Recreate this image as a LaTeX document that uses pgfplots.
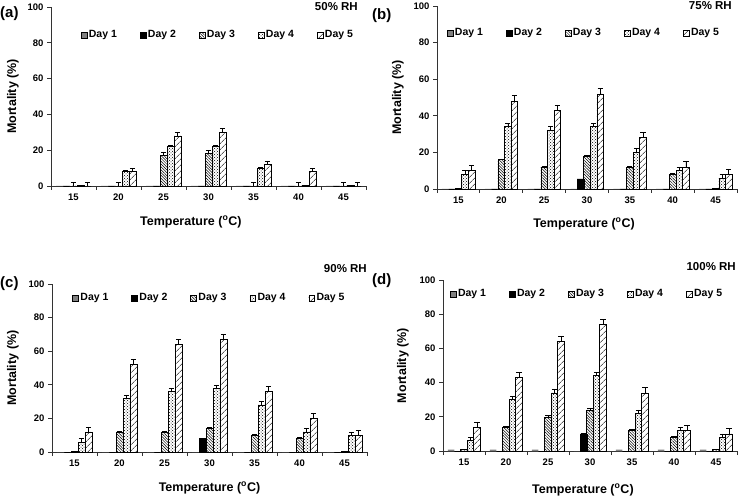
\documentclass[border=0pt]{standalone}
\usepackage{fontspec}
\setmainfont{Liberation Sans}
\usepackage{pgfplots}
\pgfplotsset{compat=1.18}
\usepackage{pgfplotstable}
\usetikzlibrary{patterns,patterns.meta}

% columns: category index, mortality day 1..5, error day 2..5
\pgfplotstableread{
x d1 d2 d3 d4 d5 e2 e3 e4 e5
0 0 0 0 0.5 0 0 2 0 2
1 0 0 0 8 8 0 2 0.5 2
2 0 0 17 22 28 0 2 0.5 2
3 0 0 18 22 30 0 2 0.5 2
4 0 0 0 10 12 0 2 0.5 2
5 0 0 0 0.5 8 0 2 0 2
6 0 0 0 0.5 0 0 2 0 2
}\tabA
\pgfplotstableread{
x d1 d2 d3 d4 d5 e2 e3 e4 e5
0 0 0 0.3 8 10 0 0 2 3
1 0 0 16 34 48 0 0.5 2 3
2 0 0 12 32 43 0 0.5 2 3
3 0 5.5 18 34 52 0 0.5 2 3
4 0 0 12 20 28 0 0.5 2 3
5 0 0 8 10 12 0 0.5 2 3
6 0 0 0.3 6 8 0 0 2 3
}\tabB
\pgfplotstableread{
x d1 d2 d3 d4 d5 e2 e3 e4 e5
0 0 0 0.3 6 12 0 0 2 3
1 0 0 12 32 52 0 0.5 2 3
2 0 0 12 36 64 0 0.5 2 3
3 0 8 14 38 67 0 0.5 2 3
4 0 0 10 28 36 0 0.5 2 3
5 0 0 8 12 20 0 0.5 2 3
6 0 0 0.3 10 10 0 0 2 3
}\tabC
\pgfplotstableread{
x d1 d2 d3 d4 d5 e2 e3 e4 e5
0 0.8 0 0.8 6 14 0 0 2 3
1 0.8 0 14 30 43 0 0.5 2 3
2 0.8 0 20 34 64 0 1 2 3
3 0 10 24 44 74 0.5 1 2 3
4 0.8 0 12 22 34 0 0.5 2 3
5 0.8 0 8 12 12 0 0.5 2 3
6 0.8 0 0.8 8 10 0 0 2 3
}\tabD

\pgfplotsset{
  panel/.style={
    scale only axis, anchor=south west,
    ybar=0pt,
    ymin=0, ymax=100, ytick={0,20,40,60,80,100},
    xmin=-0.5, xmax=6.5,
    xtick={-0.5,0.5,1.5,2.5,3.5,4.5,5.5,6.5},
    x tick label as interval,
    xticklabels={15,20,25,30,35,40,45},
    axis x line*=bottom, axis y line*=left,
    axis line style={-, black!80, line width=0.8pt},
    tick align=outside, major tick length=4pt,
    tick style={black!80, line width=0.8pt},
    tick label style={font=\bfseries\fontsize{9.5}{11}\selectfont},
    /pgf/number format/assume math mode=true,
    label style={font=\bfseries\fontsize{12.5}{14}\selectfont},
    xlabel={Temperature (\textsuperscript{o}C)},
    ylabel={Mortality (\%)},
    legend columns=5,
    legend style={draw=none, fill=none, anchor=center,
      font=\bfseries\fontsize{10.5}{12}\selectfont,
      /tikz/every even column/.append style={column sep=21pt}},
    clip=false,
  },
  sqleg/.style={legend image code/.code={
      \draw[##1, line width=0.4pt] (0pt,-2.8pt) rectangle (5.6pt,2.8pt);}},
  errbars/.style={
    /pgfplots/error bars/y dir=plus,
    /pgfplots/error bars/y explicit,
    /pgfplots/error bars/error bar style={black, line width=0.6pt},
    /pgfplots/error bars/error mark options={rotate=90, black, line width=0.6pt, mark size=2.6pt}},
  dA/.style={fill=black!50, draw=none},
  dB/.style={fill=black, draw=black},
  dC/.style={draw=black, line width=0.6pt, pattern={Lines[angle=-45,distance=2pt,line width=0.5pt]}},
  dD/.style={draw=black, line width=0.6pt, pattern=crosshatch dots},
  dE/.style={draw=black, line width=0.6pt, pattern={Lines[angle=45,distance=4pt,line width=0.6pt]}},
}

\newcommand{\bars}[1]{%
  \addplot[dA, sqleg] table[x=x, y=d1] {#1};
  \addlegendentry{Day 1}
  \addplot[dB, errbars, sqleg] table[x=x, y=d2, y error=e2] {#1};
  \addlegendentry{Day 2}
  \addplot[dC, errbars, sqleg] table[x=x, y=d3, y error=e3] {#1};
  \addlegendentry{Day 3}
  \addplot[dD, errbars, sqleg] table[x=x, y=d4, y error=e4] {#1};
  \addlegendentry{Day 4}
  \addplot[dE, errbars, sqleg] table[x=x, y=d5, y error=e5] {#1};
  \addlegendentry{Day 5}
}

\begin{document}
\begin{tikzpicture}
\useasboundingbox (0pt,0pt) rectangle (738pt,498pt);

% (a) 50% RH
\begin{axis}[panel, at={(51pt,312pt)}, width=315pt, height=179pt, bar width=7pt,
  legend style={at={(0.53,0.844)}},
  xlabel style={at={([yshift=-36pt]axis description cs:0.444,0)}, anchor=center},
  ylabel style={at={([xshift=-38pt]axis description cs:0,0.5)}, anchor=center}]
\bars{\tabA}
\end{axis}

% (b) 75% RH
\begin{axis}[panel, at={(437pt,309pt)}, width=300pt, height=183pt, bar width=6.6pt,
  legend style={at={(0.49,0.852)}},
  xlabel style={at={([yshift=-35pt]axis description cs:0.49,0)}, anchor=center},
  ylabel style={at={([xshift=-39pt]axis description cs:0,0.5)}, anchor=center}]
\bars{\tabB}
\end{axis}

% (c) 90% RH
\begin{axis}[panel, at={(52pt,46pt)}, width=315pt, height=168pt, bar width=7pt,
  legend style={at={(0.5,0.917)}},
  xlabel style={at={([yshift=-36pt]axis description cs:0.5,0)}, anchor=center},
  ylabel style={at={([xshift=-39pt]axis description cs:0,0.5)}, anchor=center}]
\bars{\tabC}
\end{axis}

% (d) 100% RH
\begin{axis}[panel, at={(443pt,47pt)}, width=294pt, height=171pt, bar width=6.5pt,
  legend style={at={(0.49,0.918)}},
  xlabel style={at={([yshift=-39pt]axis description cs:0.476,0)}, anchor=center},
  ylabel style={at={([xshift=-40pt]axis description cs:0,0.5)}, anchor=center}]
\bars{\tabD}
\end{axis}

\begin{scope}[font=\bfseries\fontsize{15}{17}\selectfont]
\node[anchor=west, inner sep=0pt] at (0pt,484pt) {(a)};
\node[anchor=west, inner sep=0pt] at (372pt,482pt) {(b)};
\node[anchor=west, inner sep=0pt] at (0pt,214pt) {(c)};
\node[anchor=west, inner sep=0pt] at (372pt,217pt) {(d)};
\end{scope}
\begin{scope}[font=\bfseries\fontsize{11.5}{13}\selectfont]
\node[anchor=east, inner sep=0pt] at (358pt,491pt) {50\% RH};
\node[anchor=east, inner sep=0pt] at (732pt,492pt) {75\% RH};
\node[anchor=east, inner sep=0pt] at (367pt,229pt) {90\% RH};
\node[anchor=east, inner sep=0pt] at (736pt,231pt) {100\% RH};
\end{scope}
\end{tikzpicture}
\end{document}
